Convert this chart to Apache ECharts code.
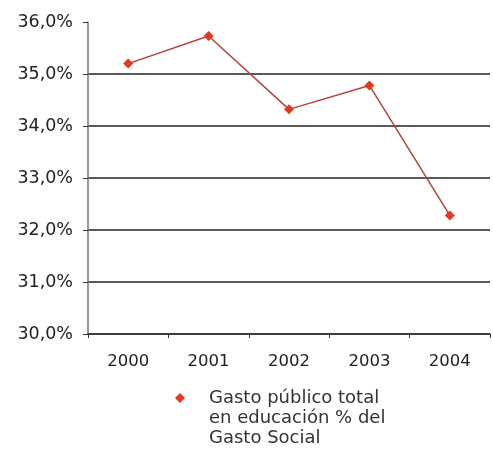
<!DOCTYPE html>
<html>
<head>
<meta charset="utf-8">
<script src="https://cdn.jsdelivr.net/npm/echarts@6/dist/echarts.min.js"></script>
<style>html,body{margin:0;padding:0;background:#fff}#c{width:493px;height:450px}</style>
</head>
<body>
<div id="c"></div>
<script>
const categories = ['2000', '2001', '2002', '2003', '2004'];
const values = [35.2, 35.73, 34.32, 34.78, 32.28];
const seriesName = 'Gasto público total\nen educación % del\nGasto Social';
const yMin = 30, yMax = 36, yStep = 1;

const chart = echarts.init(document.getElementById('c'));
chart.setOption({
  animation: false,
  backgroundColor: '#fff',
  grid: { left: 88, right: 3, top: 22, bottom: 116 },
  xAxis: {
    type: 'category',
    data: categories,
    boundaryGap: true,
    axisLine: { lineStyle: { color: '#333', width: 1.5 } },
    axisTick: { show: true, length: 4, lineStyle: { color: '#333' } },
    axisLabel: { color: '#222', fontSize: 16.5, fontFamily: 'DejaVu Sans', margin: 19 }
  },
  yAxis: {
    type: 'value',
    min: yMin, max: yMax, interval: yStep,
    axisLine: { show: true, lineStyle: { color: '#777', width: 1.5 } },
    axisTick: { show: true, length: 5, lineStyle: { color: '#333' } },
    axisLabel: {
      color: '#222', fontSize: 17.5, fontFamily: 'DejaVu Sans', margin: 15,
      formatter: v => v.toFixed(1).replace('.', ',') + '%'
    },
    splitLine: { show: true, showMaxLine: false, lineStyle: { color: '#222', width: 1.5 } }
  },
  legend: {
    show: true,
    left: 170, top: 383,
    orient: 'vertical',
    icon: 'path://M5 0L10 5L5 10L0 5Z M5 50L5 50',
    itemWidth: 10, itemHeight: 50,
    itemGap: 0,
    textStyle: { color: '#333', fontSize: 18, fontFamily: 'DejaVu Sans', lineHeight: 20, padding: [0, 0, 0, 19] }
  },
  series: [{
    name: seriesName,
    type: 'line',
    data: values,
    symbol: 'diamond',
    symbolSize: 10,
    itemStyle: { color: '#e23a1c' },
    lineStyle: { color: '#b0463a', width: 1.5 }
  }]
});
</script>
</body>
</html>
